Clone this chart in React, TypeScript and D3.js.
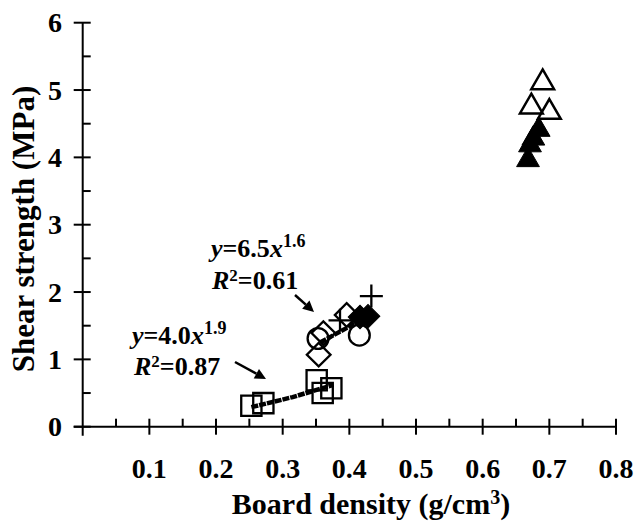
import React from 'react';
import * as d3 from 'd3';

// board density (g/cm3) and shear strength (MPa)
const squareX = [0.253, 0.271, 0.351, 0.36, 0.373];
const squareY = [0.31, 0.35, 0.69, 0.5, 0.57];
const circleX = [0.353, 0.415];
const circleY = [1.31, 1.36];
const diamondX = [0.354, 0.361, 0.396];
const diamondY = [1.07, 1.39, 1.66];
const plusX = [0.386, 0.433];
const plusY = [1.58, 1.94];
const filledDiamondX = [0.416, 0.428];
const filledDiamondY = [1.63, 1.64];
const openTriX = [0.69, 0.673, 0.70];
const openTriY = [5.11, 4.75, 4.67];
const filledTriX = [0.684, 0.676, 0.671, 0.668];
const filledTriY = [4.41, 4.28, 4.18, 3.96];

// fitted curves, points as drawn
const fitLowX = [0.253, 0.315, 0.376];
const fitLowY = [0.29, 0.44, 0.62];
const fitHighX = [0.356, 0.395, 0.432];
const fitHighY = [1.25, 1.46, 1.68];

const xTicks = [0.1, 0.2, 0.3, 0.4, 0.5, 0.6, 0.7, 0.8];
const yTicks = [0, 1, 2, 3, 4, 5, 6];

const font = '"Liberation Serif", "Times New Roman", serif';

const App = () => {
  const width = 635;
  const height = 523;
  const x = d3.scaleLinear().domain([0, 0.8]).range([82.7, 616]);
  const y = d3.scaleLinear().domain([0, 6]).range([426.7, 22.7]);

  const xMinor = d3.range(0.05, 0.8, 0.1);
  const yMinor = d3.range(0.5, 6, 1);

  const fitPath = (xs: number[], ys: number[]) =>
    d3.line<number>().x((d) => x(d)).y((d, i) => y(ys[i]))(xs) || '';

  const sq = d3.symbol().type(d3.symbolSquare).size(410)() || '';
  const circ = d3.symbol().type(d3.symbolCircle).size(340)() || '';
  const dia = d3.symbol().type(d3.symbolSquare).size(280)() || '';
  const tri = d3.symbol().type(d3.symbolTriangle).size(225)() || '';
  const plus = 'M-11.5,0H11.5M0,-11.5V11.5';

  const arrow = (x1: number, y1: number, x2: number, y2: number) => {
    const a = Math.atan2(y2 - y1, x2 - x1);
    const L = 11;
    const w = 5.5;
    const bx = x2 - L * Math.cos(a);
    const by = y2 - L * Math.sin(a);
    const head = `M${x2},${y2}L${bx + w * Math.sin(a)},${by - w * Math.cos(a)}L${bx - w * Math.sin(a)},${by + w * Math.cos(a)}Z`;
    return (
      <g>
        <line x1={x1} y1={y1} x2={bx} y2={by} stroke="#000" strokeWidth={2.5} />
        <path d={head} fill="#000" />
      </g>
    );
  };

  // equation label: italic letters, superscript exponent
  const eq = (lx: number, ly: number, v: string, base: string, exp: string) => (
    <text x={lx} y={ly} fontSize={26}>
      <tspan fontStyle="italic">{v}</tspan>
      {base}
      <tspan fontStyle="italic">x</tspan>
      <tspan dy={-10} fontSize={18}>{exp}</tspan>
    </text>
  );
  const rsq = (lx: number, ly: number, val: string) => (
    <text x={lx} y={ly} fontSize={26}>
      <tspan fontStyle="italic">R</tspan>
      <tspan dy={-8} fontSize={17}>2</tspan>
      <tspan dy={8}>{'=' + val}</tspan>
    </text>
  );

  return (
    <svg
      width={width}
      height={height}
      style={{ position: 'absolute', left: 0, top: 0, background: '#fff' }}
      fontFamily={font}
      fontWeight="bold"
    >
      {/* axes */}
      <line x1={x(0) - 9} y1={y(0)} x2={x(0.8)} y2={y(0)} stroke="#000" strokeWidth={2} />
      <line x1={x(0)} y1={y(6)} x2={x(0)} y2={y(0) + 9} stroke="#000" strokeWidth={2} />
      {xTicks.map((t) => (
        <g key={'xt' + t}>
          <line x1={x(t)} x2={x(t)} y1={y(0) - 8} y2={y(0) + 8} stroke="#000" strokeWidth={2} />
          <text x={x(t)} y={478} textAnchor="middle" fontSize={28}>
            {d3.format('.1f')(t)}
          </text>
        </g>
      ))}
      {xMinor.map((t) => (
        <line key={'xm' + t} x1={x(t)} x2={x(t)} y1={y(0) - 8} y2={y(0)} stroke="#000" strokeWidth={2} />
      ))}
      {yTicks.map((t) => (
        <g key={'yt' + t}>
          <line x1={x(0) - 9} x2={x(0) + 8} y1={y(t)} y2={y(t)} stroke="#000" strokeWidth={2} />
          <text x={62} y={y(t) + 9.5} textAnchor="end" fontSize={28}>
            {t}
          </text>
        </g>
      ))}
      {yMinor.map((t) => (
        <line key={'ym' + t} x1={x(0)} x2={x(0) + 8} y1={y(t)} y2={y(t)} stroke="#000" strokeWidth={2} />
      ))}

      {/* axis titles */}
      <text x={371} y={514} textAnchor="middle" fontSize={30}>
        Board density (g/cm<tspan dy={-10} fontSize={20}>3</tspan>
        <tspan dy={10}>)</tspan>
      </text>
      <text transform="translate(34,229) rotate(-90)" textAnchor="middle" fontSize={31}>
        Shear strength (MPa)
      </text>

      {/* fit lines */}
      <path d={fitPath(fitLowX, fitLowY)} fill="none" stroke="#000" strokeWidth={4.5} strokeDasharray="7 1" />
      <path d={fitPath(fitHighX, fitHighY)} fill="none" stroke="#000" strokeWidth={4.5} strokeDasharray="7 1" />

      {/* markers */}
      {squareX.map((d, i) => (
        <path key={'s' + i} d={sq} transform={`translate(${x(d)},${y(squareY[i])})`} fill="none" stroke="#000" strokeWidth={2.3} />
      ))}
      {circleX.map((d, i) => (
        <path key={'c' + i} d={circ} transform={`translate(${x(d)},${y(circleY[i])})`} fill="none" stroke="#000" strokeWidth={2.3} />
      ))}
      {diamondX.map((d, i) => (
        <path key={'d' + i} d={dia} transform={`translate(${x(d)},${y(diamondY[i])}) rotate(45)`} fill="none" stroke="#000" strokeWidth={2.3} />
      ))}
      {plusX.map((d, i) => (
        <path key={'p' + i} d={plus} transform={`translate(${x(d)},${y(plusY[i])})`} fill="none" stroke="#000" strokeWidth={2.3} />
      ))}
      {filledDiamondX.map((d, i) => (
        <path key={'fd' + i} d={dia} transform={`translate(${x(d)},${y(filledDiamondY[i])}) rotate(45)`} fill="#000" stroke="#000" strokeWidth={1} />
      ))}
      {filledTriX.map((d, i) => (
        <path key={'ft' + i} d={tri} transform={`translate(${x(d)},${y(filledTriY[i])})`} fill="#000" stroke="#000" strokeWidth={1} />
      ))}
      {openTriX.map((d, i) => (
        <path key={'ot' + i} d={tri} transform={`translate(${x(d)},${y(openTriY[i])})`} fill="none" stroke="#000" strokeWidth={2.5} />
      ))}

      {/* annotations */}
      {eq(211, 257, 'y', '=6.5', '1.6')}
      {rsq(212, 289, '0.61')}
      {arrow(295, 295, 314, 312)}
      {eq(132, 344, 'y', '=4.0', '1.9')}
      {rsq(134, 375, '0.87')}
      {arrow(235, 362, 266, 379)}
    </svg>
  );
};

export default App;
